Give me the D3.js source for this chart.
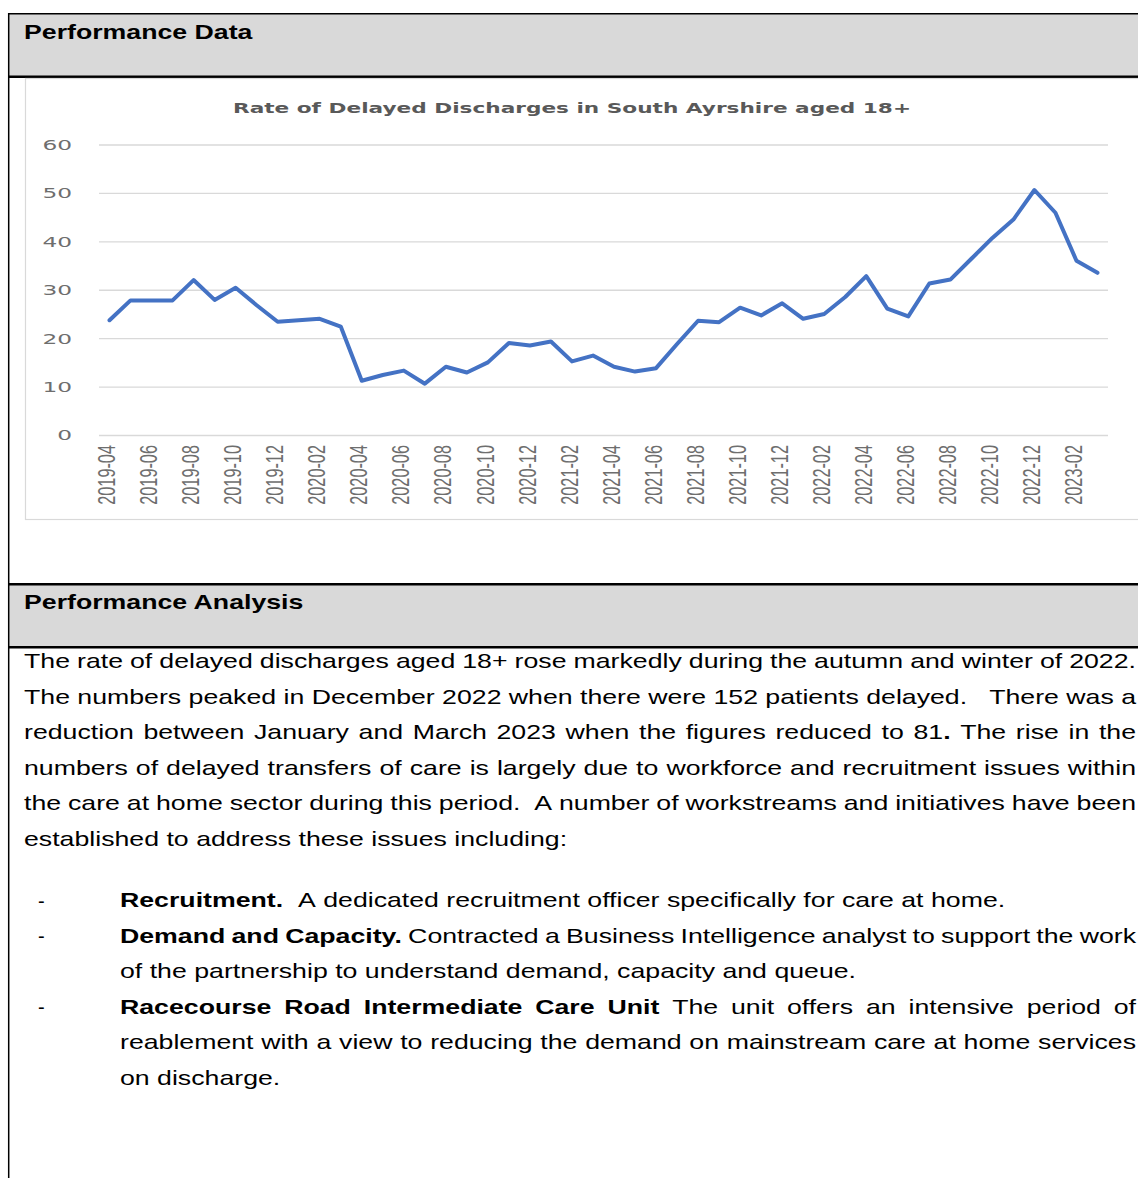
<!DOCTYPE html>
<html>
<head>
<meta charset="utf-8">
<script src="https://cdn.jsdelivr.net/npm/d3@7"></script>
<style>
  body { margin: 0; background: #fff; }
  svg { display: block; }
</style>
</head>
<body>
<div id="page"></div>
<script>
// data
let months = ["2019-04","2019-05","2019-06","2019-07","2019-08","2019-09","2019-10","2019-11","2019-12",
  "2020-01","2020-02","2020-03","2020-04","2020-05","2020-06","2020-07","2020-08","2020-09","2020-10","2020-11","2020-12",
  "2021-01","2021-02","2021-03","2021-04","2021-05","2021-06","2021-07","2021-08","2021-09","2021-10","2021-11","2021-12",
  "2022-01","2022-02","2022-03","2022-04","2022-05","2022-06","2022-07","2022-08","2022-09","2022-10","2022-11","2022-12",
  "2023-01","2023-02","2023-03"];
let rates = [23.7, 27.8, 27.8, 27.8, 32.0, 27.9, 30.4, 26.8, 23.4,
  23.7, 24.0, 22.4, 11.2, 12.4, 13.3, 10.6, 14.1, 12.9, 15.0, 19.0, 18.5,
  19.3, 15.2, 16.4, 14.1, 13.1, 13.8, 18.8, 23.6, 23.3, 26.3, 24.7, 27.2,
  24.0, 25.0, 28.5, 32.8, 26.1, 24.5, 31.3, 32.1, 36.4, 40.7, 44.5, 50.6,
  45.9, 36.0, 33.5];
let xTickLabels = months.filter((d, i) => i % 2 === 0);
let yTicks = [0, 10, 20, 30, 40, 50, 60];

let chartTitle = "Rate of Delayed Discharges in South Ayrshire aged 18+";
let heading1 = "Performance Data";
let heading2 = "Performance Analysis";

// body text, one entry per printed line: runs of [text, bold]
let paragraph = [
  {runs: [["The rate of delayed discharges aged 18+ rose markedly during the autumn and winter of 2022.", false]], justify: true},
  {runs: [["The numbers peaked in December 2022 when there were 152 patients delayed.   There was a", false]], justify: true},
  {runs: [["reduction between January and March 2023 when the figures reduced to 81", false], [".", true], [" The rise in the", false]], justify: true},
  {runs: [["numbers of delayed transfers of care is largely due to workforce and recruitment issues within", false]], justify: true},
  {runs: [["the care at home sector during this period.  A number of workstreams and initiatives have been", false]], justify: true},
  {runs: [["established to address these issues including:", false]], justify: false}
];
let bullets = [
  {dash: true, runs: [["Recruitment.", true], ["  A dedicated recruitment officer specifically for care at home.", false]], justify: false},
  {dash: true, runs: [["Demand and Capacity.", true], [" Contracted a Business Intelligence analyst to support the work", false]], justify: true},
  {dash: false, runs: [["of the partnership to understand demand, capacity and queue.", false]], justify: false},
  {dash: true, runs: [["Racecourse Road Intermediate Care Unit", true], [" The unit offers an intensive period of", false]], justify: true},
  {dash: false, runs: [["reablement with a view to reducing the demand on mainstream care at home services", false]], justify: true},
  {dash: false, runs: [["on discharge.", false]], justify: false}
];

let svgWidth = 1138;
let svgHeight = 1178;

let svg = d3.select("#page")
  .append("svg")
  .attr("width", svgWidth)
  .attr("height", svgHeight);

//page frame: header bands and rules
svg.append("rect").attr("x", 8).attr("y", 14).attr("width", 1140).attr("height", 62).attr("fill", "#d9d9d9");
svg.append("rect").attr("x", 8).attr("y", 585).attr("width", 1140).attr("height", 61).attr("fill", "#d9d9d9");
svg.append("line").attr("x1", 8).attr("x2", 1140).attr("y1", 13.7).attr("y2", 13.7).attr("stroke", "#000").attr("stroke-width", 1.5);
svg.append("line").attr("x1", 8).attr("x2", 1140).attr("y1", 76.8).attr("y2", 76.8).attr("stroke", "#000").attr("stroke-width", 2.5);
svg.append("line").attr("x1", 8).attr("x2", 1140).attr("y1", 584.2).attr("y2", 584.2).attr("stroke", "#000").attr("stroke-width", 2.5);
svg.append("line").attr("x1", 8).attr("x2", 1140).attr("y1", 647.2).attr("y2", 647.2).attr("stroke", "#000").attr("stroke-width", 2.5);
svg.append("line").attr("x1", 8.7).attr("x2", 8.7).attr("y1", 13).attr("y2", 1180).attr("stroke", "#000").attr("stroke-width", 1.5);

// chart frame
svg.append("rect")
  .attr("x", 25.5).attr("y", 78.5)
  .attr("width", 1200).attr("height", 441)
  .attr("fill", "#fff")
  .attr("stroke", "#d9d9d9")
  .attr("stroke-width", 1.2);

// document text is stretched sideways in the reference
let docStretch = 1.335;
let docFont = "'Liberation Sans', Arial, sans-serif";

function writeLine(y, x0, x1, line, size) {
  let g = svg.append("g").attr("transform", `scale(${docStretch},1)`);
  let t = g.append("text")
    .attr("y", y)
    .attr("font-family", docFont)
    .attr("font-size", size)
    .attr("fill", "#000");
  // split into words, keep the bold flag per word
  let words = [];
  line.runs.forEach(r => {
    let parts = r[0].split(" ");
    parts.forEach((p, i) => {
      if (i > 0) words.push({sep: true});
      words[words.length] = {text: p, bold: r[1]};
    });
  });
  // glue: a run that starts without space continues the previous word
  let tokens = [];
  let cur = null;
  words.forEach(w => {
    if (w.sep) { cur = null; return; }
    if (cur === null) { cur = []; tokens.push(cur); }
    if (w.text.length) cur.push(w);
  });
  let spans = tokens.map(tok => {
    let pieces = tok.map(w => {
      let s = t.append("tspan").attr("font-weight", w.bold ? "bold" : "normal").text(w.text);
      return {node: s, w: s.node().getComputedTextLength()};
    });
    return {pieces: pieces, w: d3.sum(pieces, p => p.w)};
  });
  let space = size * 0.278;
  let l0 = x0 / docStretch, l1 = x1 / docStretch;
  let total = d3.sum(spans, s => s.w);
  let gap = space;
  if (line.justify && spans.length > 1) gap = (l1 - l0 - total) / (spans.length - 1);
  let xx = l0;
  spans.forEach(s => {
    s.pieces.forEach(p => {
      p.node.attr("x", xx);
      xx += p.w;
    });
    xx += gap;
  });
}

function writeHeading(y, txt) {
  svg.append("g").attr("transform", `scale(${docStretch},1)`)
    .append("text")
    .attr("x", 24 / docStretch)
    .attr("y", y)
    .attr("font-family", docFont)
    .attr("font-size", 20)
    .attr("font-weight", "bold")
    .text(txt);
}

writeHeading(39.5, heading1);
writeHeading(609, heading2);

let bodySize = 20;
let lineStep = 35.5;
paragraph.forEach((ln, i) => writeLine(668.5 + i * lineStep, 24, 1136, ln, bodySize));
bullets.forEach((ln, i) => {
  let y = 907.5 + i * lineStep;
  if (ln.dash) {
    svg.append("text").attr("x", 38).attr("y", y)
      .attr("font-family", docFont).attr("font-size", bodySize).text("-");
  }
  writeLine(y, 120, 1136, ln, bodySize);
});

// ---- chart ----
let chartFont = "'DejaVu Sans', sans-serif";
let labelStretch = 1.7;

let x = d3.scalePoint()
  .domain(months)
  .range([99, 1108])
  .padding(0.5);

let y = d3.scaleLinear()
  .domain([0, 60])
  .range([435, 144.5]);

svg.append("text")
  .attr("x", 572)
  .attr("y", 113.3)
  .attr("text-anchor", "middle")
  .attr("font-family", chartFont)
  .attr("font-weight", "bold")
  .attr("font-size", 14.5)
  .attr("fill", "#595959")
  .attr("textLength", 678)
  .attr("lengthAdjust", "spacingAndGlyphs")
  .text(chartTitle);

// y axis with gridlines
let leftAxis = d3.axisLeft(y)
  .tickValues(yTicks)
  .tickSize(-(1108 - 99))
  .tickFormat(d3.format("d"));

let yAxis = svg.append("g")
  .attr("transform", "translate(99,0)")
  .call(leftAxis);
yAxis.select(".domain").remove();
yAxis.selectAll(".tick line")
  .attr("stroke", "#d9d9d9")
  .attr("stroke-width", 1.3);
yAxis.selectAll(".tick text")
  .attr("x", -27 / labelStretch)
  .attr("dy", "0.36em")
  .attr("transform", `scale(${labelStretch},1)`)
  .attr("font-family", chartFont)
  .attr("font-size", 13.7)
  .attr("fill", "#6e6e6e");

// x axis, rotated labels
let bottomAxis = d3.axisBottom(x)
  .tickValues(xTickLabels)
  .tickSize(0);

let xAxis = svg.append("g")
  .attr("transform", "translate(0,445)")
  .call(bottomAxis);
xAxis.select(".domain").remove();
xAxis.selectAll(".tick text")
  .attr("x", 0)
  .attr("y", 0)
  .attr("dy", "0.21em")
  .attr("text-anchor", "end")
  .attr("transform", `scale(1.5,1) rotate(-90)`)
  .attr("font-family", "'Liberation Sans', Arial, sans-serif")
  .attr("font-size", 16.3)
  .attr("fill", "#6e6e6e");

// the line
let valueLine = d3.line()
  .x((d, i) => x(months[i]))
  .y(d => y(d));

svg.append("path")
  .datum(rates)
  .attr("d", valueLine)
  .attr("fill", "none")
  .attr("stroke", "#4472c4")
  .attr("stroke-width", 4)
  .attr("stroke-linejoin", "round")
  .attr("stroke-linecap", "round");
</script>
</body>
</html>
